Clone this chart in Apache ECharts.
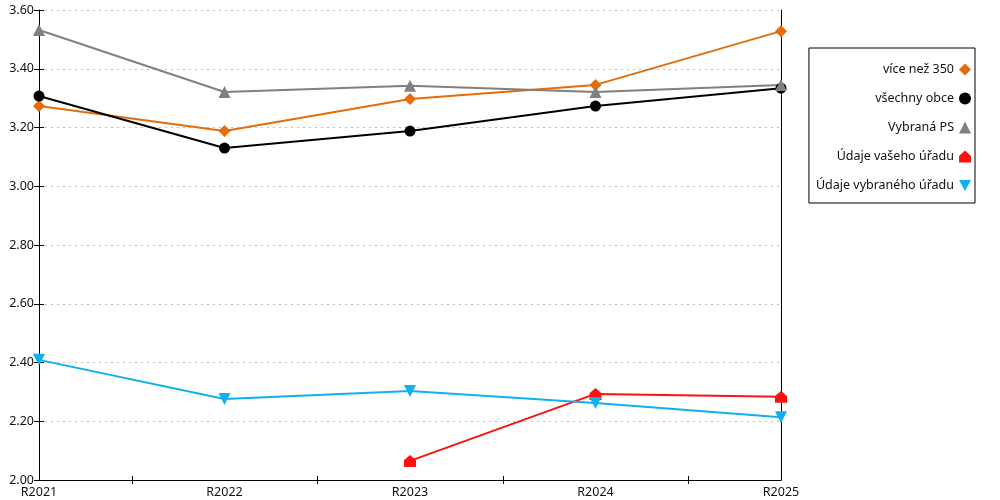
<!DOCTYPE html>
<html>
<head>
<meta charset="utf-8">
<script src="https://cdn.jsdelivr.net/npm/echarts@6/dist/echarts.min.js"></script>
<style>
  html, body { margin: 0; padding: 0; background: #fff; }
  #chart { width: 1000px; height: 500px; }
</style>
</head>
<body>
<div id="chart"></div>
<script>
const years = ['R2021', 'R2022', 'R2023', 'R2024', 'R2025']
const names = ['více než 350', 'všechny obce', 'Vybraná PS', 'Údaje vašeho úřadu', 'Údaje vybraného úřadu']
const vice350 = [3.273, 3.188, 3.297, 3.345, 3.528]
const vsechnyObce = [3.307, 3.130, 3.188, 3.273, 3.334]
const vybranaPS = [3.532, 3.321, 3.342, 3.321, 3.345]
const vasUrad = [null, null, 2.065, 2.293, 2.283]
const vybranyUrad = [2.409, 2.276, 2.303, 2.262, 2.214]
const midTicks = [0.5, 1.5, 2.5, 3.5]

const FONT = 'Noto Sans'
const FONT_SIZE = 12.5
const houseIcon = 'path://M5,0 L10,4.5 L10,10 L0,10 L0,4.5 Z'
const downTriangle = 'path://M0,0 L10,0 L5,9 Z'

const chart = echarts.init(document.getElementById('chart'))

function makeSeries (name, data, color, symbol, size) {
  return {
    name: name,
    type: 'line',
    data: data,
    symbol: symbol,
    symbolSize: size,
    showAllSymbol: true,
    connectNulls: false,
    lineStyle: { color: color, width: 2 },
    itemStyle: { color: color },
    emphasis: { disabled: true },
    animation: false
  }
}

// x ticks sit between the categories and cross the axis line
const tickAxis = (inside) => ({
  type: 'value',
  min: 0,
  max: 4,
  position: 'bottom',
  axisLine: { show: false },
  axisLabel: { show: false },
  splitLine: { show: false },
  axisTick: {
    show: true,
    inside: inside,
    length: 4,
    customValues: midTicks,
    lineStyle: { color: '#000', width: 1 }
  }
})

chart.setOption({
  backgroundColor: '#fff',
  textStyle: { fontFamily: FONT },
  grid: { left: 39, right: 219, top: 10, bottom: 20 },
  legend: {
    orient: 'vertical',
    right: 25,
    top: 48,
    align: 'right',
    backgroundColor: '#fff',
    borderColor: '#000',
    borderWidth: 1,
    borderRadius: 0,
    padding: [15, 4, 11, 7],
    itemGap: 16,
    itemWidth: 12,
    itemHeight: 12,
    textStyle: { fontFamily: FONT, fontSize: FONT_SIZE, color: '#111', width: 138, align: 'right' },
    data: [
      { name: names[0], icon: 'diamond' },
      { name: names[1], icon: 'circle' },
      { name: names[2], icon: 'triangle' },
      { name: names[3], icon: houseIcon },
      { name: names[4], icon: downTriangle }
    ],
    selectedMode: false
  },
  xAxis: [
    {
      type: 'category',
      data: years,
      boundaryGap: false,
      axisLine: { show: true, lineStyle: { color: '#000', width: 1 } },
      axisTick: { show: false },
      axisLabel: { color: '#111', fontSize: FONT_SIZE, fontFamily: FONT, margin: 6 },
      splitLine: { show: false }
    },
    tickAxis(false),
    tickAxis(true)
  ],
  yAxis: [
    {
      type: 'value',
      min: 2,
      max: 3.6,
      interval: 0.2,
      axisLine: { show: true, lineStyle: { color: '#000', width: 1 } },
      axisTick: { show: true, length: 5, lineStyle: { color: '#000' } },
      axisLabel: {
        color: '#111', fontSize: FONT_SIZE, fontFamily: FONT, margin: 5,
        formatter: (v) => v.toFixed(2)
      },
      splitLine: { show: true, lineStyle: { color: '#bdbdbd', type: [2, 4], width: 1 } }
    },
    {
      type: 'value',
      min: 2,
      max: 3.6,
      interval: 0.2,
      position: 'left',
      axisLine: { show: false },
      axisTick: { show: true, inside: true, length: 5, lineStyle: { color: '#000' } },
      axisLabel: { show: false },
      splitLine: { show: false }
    },
    {
      type: 'value',
      min: 2,
      max: 3.6,
      position: 'right',
      axisLine: { show: true, lineStyle: { color: '#000', width: 1 } },
      axisTick: { show: false },
      axisLabel: { show: false },
      splitLine: { show: false }
    }
  ],
  series: [
    makeSeries(names[0], vice350, '#e46c0a', 'diamond', 12),
    makeSeries(names[1], vsechnyObce, '#000000', 'circle', 11),
    makeSeries(names[2], vybranaPS, '#808080', 'triangle', 12),
    makeSeries(names[3], vasUrad, '#ff1010', houseIcon, 12),
    makeSeries(names[4], vybranyUrad, '#10b0ee', downTriangle, 12)
  ]
})
</script>
</body>
</html>
